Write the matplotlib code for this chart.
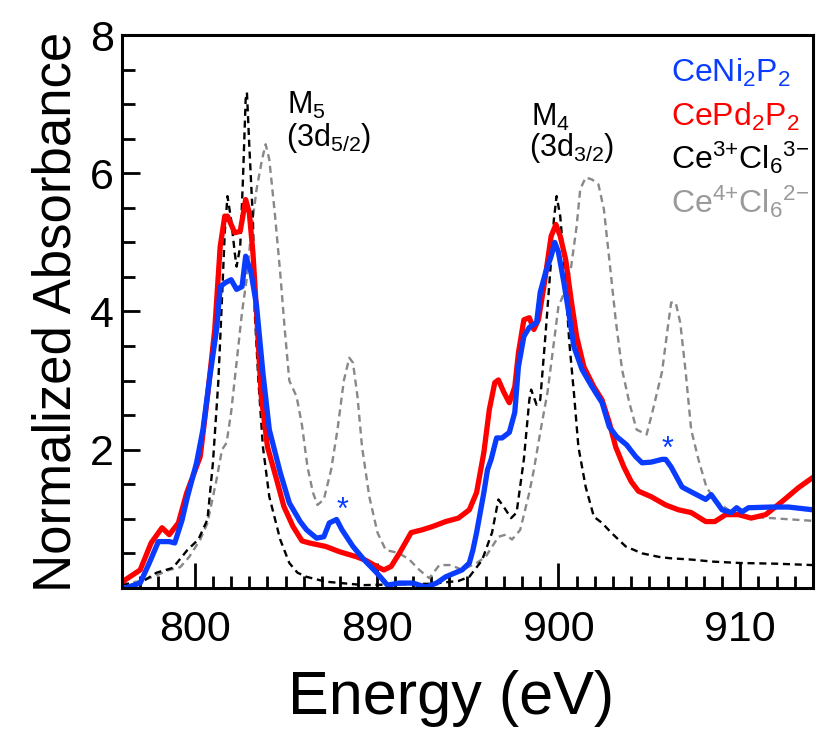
import matplotlib
matplotlib.use("Agg")
import matplotlib.pyplot as plt
from matplotlib.ticker import MultipleLocator

plt.rcParams['font.family'] = ['Liberation Sans', 'DejaVu Sans']
plt.rcParams['mathtext.fontset'] = 'custom'
plt.rcParams['mathtext.rm'] = 'Liberation Sans'
plt.rcParams['mathtext.it'] = 'Liberation Sans'
plt.rcParams['mathtext.default'] = 'regular'

# CePd2P2 (red)
pd_x = [876.0, 876.2, 877.0, 877.6, 878.2, 878.6, 879.1, 879.55, 880.3, 880.7, 881.1, 881.4, 881.65, 881.8,
        882.2, 882.5, 882.8, 883.0, 883.2, 883.4, 883.66, 884.0, 884.5, 884.9, 885.4, 885.9, 886.3, 887.2,
        888.0, 888.9, 889.4, 890.0, 890.4, 890.8, 891.25, 891.9, 892.5, 893.1, 893.8, 894.5, 895.1, 895.5,
        895.9, 896.2, 896.5, 896.7, 897.0, 897.3, 897.6, 897.8, 898.1, 898.4, 898.65, 898.9, 899.2, 899.6,
        899.86, 900.1, 900.4, 900.7, 901.0, 901.4, 901.95, 902.4, 902.8, 903.15, 903.6, 904.0, 904.4, 905.1,
        905.9, 906.6, 907.3, 908.1, 908.6, 909.2, 909.9, 910.6, 911.4, 912.3, 913.2, 914.0]
pd_y = [0.08, 0.12, 0.26, 0.65, 0.87, 0.77, 0.94, 1.37, 1.9, 2.77, 3.74, 4.94, 5.38, 5.38,
        5.14, 5.16, 5.62, 5.43, 4.85, 3.98, 2.77, 2.04, 1.57, 1.18, 0.89, 0.68, 0.65, 0.6,
        0.52, 0.45, 0.4, 0.31, 0.26, 0.31, 0.5, 0.8, 0.84, 0.89, 0.96, 1.01, 1.13, 1.38,
        1.96, 2.58, 2.97, 3.01, 2.83, 2.68, 2.91, 3.4, 3.88, 3.91, 3.74, 3.88, 4.36, 5.09,
        5.26, 5.09, 4.75, 4.17, 3.64, 3.2, 2.91, 2.72, 2.39, 2.04, 1.75, 1.54, 1.4, 1.32,
        1.2, 1.13, 1.09, 0.96, 0.96, 1.06, 1.06, 1.01, 1.06, 1.25, 1.45, 1.6]

# CeNi2P2 (blue)
ni_x = [876.0, 876.2, 877.0, 877.5, 878.0, 878.6, 878.9, 879.3, 879.6, 880.1, 880.45, 880.8, 881.2, 881.4,
        881.7, 882.0, 882.3, 882.6, 882.8, 883.1, 883.4, 883.75, 884.1, 884.7, 885.2, 885.8, 886.15, 886.7,
        887.1, 887.4, 887.8, 888.1, 888.7, 889.3, 890.0, 890.6, 891.25, 892.0, 892.7, 893.3, 893.8, 894.7,
        895.1, 895.3, 895.5, 895.7, 895.9, 896.1, 896.3, 896.6, 896.9, 897.3, 897.6, 897.8, 898.1, 898.4,
        898.8, 899.0, 899.3, 899.6, 899.8, 900.0, 900.3, 900.6, 900.85, 901.3, 901.85, 902.4, 902.8, 903.2,
        903.75, 904.25, 904.6, 905.1, 905.7, 905.9, 906.2, 906.8, 907.3, 908.1, 908.4, 909.0, 909.5, 909.8,
        910.1, 910.45, 911.7, 912.65, 914.0]
ni_y = [-0.05, 0.0, 0.07, 0.36, 0.67, 0.67, 0.65, 0.98, 1.32, 1.81, 2.29, 3.0, 3.74, 4.36,
        4.42, 4.46, 4.32, 4.36, 4.8, 4.56, 4.08, 3.11, 2.29, 1.67, 1.23, 0.96, 0.84, 0.72,
        0.74, 0.94, 0.99, 0.84, 0.6, 0.41, 0.22, 0.04, 0.07, 0.07, 0.01, 0.07, 0.16, 0.26,
        0.36, 0.55, 0.8, 1.09, 1.38, 1.71, 1.86, 2.17, 2.17, 2.25, 2.54, 3.2, 3.64, 3.77,
        3.84, 4.28, 4.57, 4.8, 5.0, 4.86, 4.42, 3.93, 3.49, 3.16, 2.91, 2.68, 2.33, 2.19,
        2.07, 1.9, 1.81, 1.82, 1.86, 1.86, 1.75, 1.46, 1.39, 1.28, 1.35, 1.13, 1.09, 1.16,
        1.1, 1.16, 1.17, 1.17, 1.13]

# Ce3+Cl6 3- reference (black dashed)
ce3_x = [876.0, 877.0, 877.9, 878.8, 879.6, 880.2, 880.7, 881.0, 881.3, 881.5, 881.65, 881.8, 882.0, 882.2,
         882.3, 882.5, 882.65, 882.8, 882.87, 883.0, 883.2, 883.3, 883.5, 883.75, 884.1, 884.7, 885.2, 885.65,
         886.15, 887.2, 889.3, 891.0, 893.0, 894.5, 895.1, 895.8, 896.35, 896.7, 897.0, 897.4, 897.7, 898.1,
         898.4, 898.5, 898.8, 899.0, 899.3, 899.6, 899.75, 899.9, 900.1, 900.3, 900.6, 900.85, 901.1, 901.5,
         901.95, 902.4, 902.9, 903.7, 904.6, 905.5, 906.1, 907.3, 908.5, 910.0, 912.0, 914.0]
ce3_y = [0.05, 0.07, 0.22, 0.29, 0.55, 0.7, 0.99, 1.81, 3.0, 4.2, 5.14, 5.67, 5.33, 4.85,
         4.65, 4.94, 5.9, 7.07, 7.17, 6.4, 5.33, 3.99, 3.0, 2.04, 1.32, 0.7, 0.36, 0.22,
         0.16, 0.09, 0.04, 0.05, 0.06, 0.1, 0.16, 0.4, 0.8, 1.28, 1.17, 1.01, 1.09, 1.86,
         2.72, 2.87, 2.65, 2.72, 3.7, 4.75, 5.33, 5.67, 5.38, 4.75, 3.55, 2.83, 2.04, 1.46,
         1.03, 0.94, 0.8, 0.6, 0.5, 0.45, 0.43, 0.41, 0.38, 0.36, 0.35, 0.33]

# Ce4+Cl6 2- reference (grey dashed)
ce4_x = [876.0, 877.0, 877.7, 878.6, 879.2, 879.7, 880.3, 880.7, 881.2, 881.5, 881.75, 882.0, 882.3, 882.6,
         882.85, 883.1, 883.4, 883.7, 883.9, 884.1, 884.4, 884.7, 884.95, 885.2, 885.6, 885.9, 886.2, 886.5,
         886.75, 887.1, 887.5, 887.85, 888.2, 888.5, 888.7, 888.95, 889.2, 889.6, 890.05, 890.5, 891.25, 891.8,
         892.35, 892.9, 893.45, 894.1, 894.7, 895.1, 895.5, 896.0, 896.7, 897.1, 897.45, 897.9, 898.4, 898.65,
         899.0, 899.4, 899.75, 900.0, 900.4, 900.7, 901.0, 901.2, 901.5, 901.85, 902.2, 902.5, 902.8, 903.15,
         903.5, 903.9, 904.3, 904.85, 905.2, 905.7, 906.0, 906.2, 906.45, 906.7, 907.0, 907.3, 907.7, 908.15,
         908.7, 909.35, 910.3, 911.7, 914.0]
ce4_y = [0.05, 0.1, 0.16, 0.26, 0.3, 0.45, 0.7, 0.94, 1.57, 2.0, 2.1, 2.54, 3.26, 3.99,
         4.46, 5.14, 5.77, 6.2, 6.42, 6.2, 5.43, 4.56, 3.74, 3.0, 2.77, 2.35, 1.75, 1.38,
         1.2, 1.28, 1.71, 2.29, 3.0, 3.33, 3.26, 2.77, 2.04, 1.32, 0.8, 0.55, 0.5, 0.41,
         0.26, 0.14, 0.33, 0.33, 0.26, 0.31, 0.36, 0.45, 0.74, 0.77, 0.7, 0.84, 1.38, 1.71,
         2.25, 2.83, 3.55, 4.07, 4.32, 4.65, 5.23, 5.77, 5.94, 5.91, 5.84, 5.48, 4.75, 3.88,
         3.16, 2.68, 2.29, 2.22, 2.58, 3.13, 3.74, 4.13, 4.13, 3.84, 3.12, 2.29, 1.86, 1.45,
         1.25, 1.13, 1.03, 1.01, 0.97]

xticks = [880, 890, 900, 910]
xtick_labels = ['800', '890', '900', '910']
yticks = [2, 4, 6, 8]

legend_labels = [r'CeNi$_2$P$_2$', r'CePd$_2$P$_2$', r'Ce$^{3{+}}$Cl$_6$$^{3{-}}$', r'Ce$^{4{+}}$Cl$_6$$^{2{-}}$']
legend_colors = ['#0a3cff', '#ff0000', '#000000', '#9a9a9a']

fig = plt.figure(figsize=(8.3, 7.47), dpi=100)
ax = fig.add_axes([0.147, 0.213, 0.8325, 0.740])

ax.plot(ce4_x, ce4_y, color='#888888', lw=1.7, dashes=(3, 2))
ax.plot(ce3_x, ce3_y, color='black', lw=1.7, dashes=(3, 2))
ax.plot(pd_x, pd_y, color='#ff0000', lw=3.8, solid_joinstyle='round')
ax.plot(ni_x, ni_y, color='#0a3cff', lw=3.8, solid_joinstyle='round')

ax.set_xlim(876, 914)
ax.set_ylim(0, 8)
ax.set_xticks(xticks)
ax.set_xticklabels(xtick_labels)
ax.set_yticks(yticks)
ax.xaxis.set_minor_locator(MultipleLocator(1))
ax.yaxis.set_minor_locator(MultipleLocator(0.5))
ax.tick_params(which='both', direction='in', top=False, right=False, width=2)
ax.tick_params(which='major', labelsize=31)
ax.tick_params(axis='x', which='major', pad=16, length=18)
ax.tick_params(axis='y', which='major', pad=6, length=13)
ax.tick_params(which='minor', length=9)
for s in ax.spines.values():
    s.set_linewidth(2.2)

ax.set_xlabel('Energy (eV)', fontsize=44, labelpad=14)
ax.xaxis.label.set_x(0.476)
ax.set_ylabel('Normalized Absorbance', fontsize=38, labelpad=6)

# edge labels
ax.text(885.1, 6.86, r'M$_5$', fontsize=22, va='baseline')
ax.text(885.0, 6.39, r'(3d$_{5/2}$)', fontsize=22, va='baseline')
ax.text(898.5, 6.68, r'M$_4$', fontsize=22, va='baseline')
ax.text(898.4, 6.25, r'(3d$_{3/2}$)', fontsize=22, va='baseline')

# satellite markers
ax.text(888.15, 1.12, '*', color='#0a3cff', fontsize=22, ha='center', va='center')
ax.text(906.0, 2.0, '*', color='#0a3cff', fontsize=22, ha='center', va='center')

legend_y = [7.33, 6.69, 6.07, 5.43]
for lab, col, ly in zip(legend_labels, legend_colors, legend_y):
    ax.text(906.2, ly, lab, color=col, fontsize=23, va='baseline')

fig.savefig('out.png', dpi=100)
